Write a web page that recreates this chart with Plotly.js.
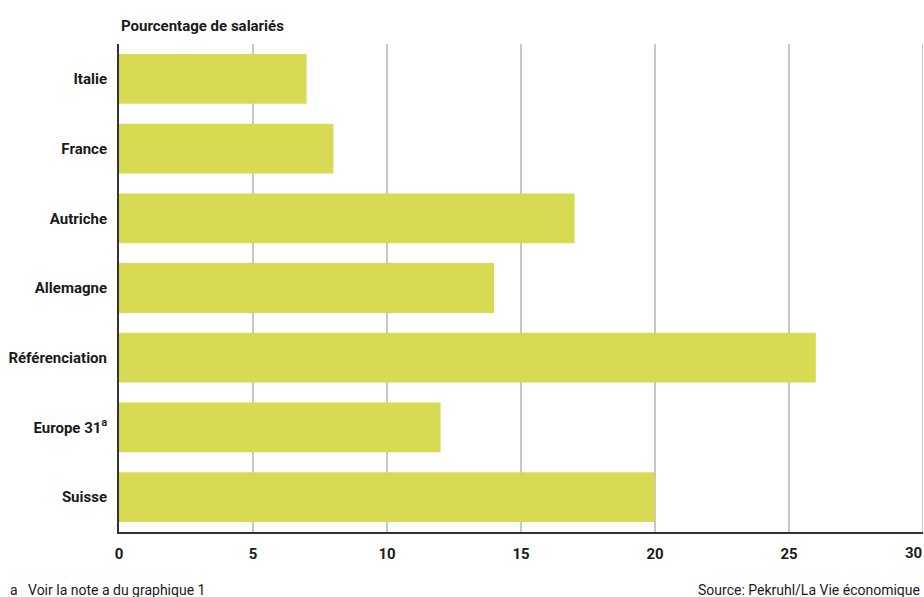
<!DOCTYPE html>
<html><head><meta charset="utf-8">
<script src="https://cdn.plot.ly/plotly-3.0.1.min.js"></script>
<style>html,body{margin:0;padding:0;background:#fff}#chart{width:924px;height:597px}</style>
</head><body><div id="chart"></div>
<script>
const categories = ["Italie","France","Autriche","Allemagne","Référenciation","Europe 31<sup>a</sup>","Suisse"];
const values = [7, 8, 17, 14, 26, 12, 20];
const tickVals = [0,5,10,15,20,25,30];
const tickText = ["0","5","10","15","20","25","30"];
const FONT = 'Roboto,"Noto Sans",sans-serif';

const trace = {
  type: 'bar', orientation: 'h',
  y: categories, x: values,
  marker: {color: '#d7da53', line: {width: 0}},
  hoverinfo: 'none'
};
const lastTick = tickText[tickText.length - 1];
const layout = {
  width: 924, height: 597,
  margin: {l: 119, r: 1, t: 44, b: 65},
  paper_bgcolor: '#fff', plot_bgcolor: '#fff',
  bargap: 0.286,
  showlegend: false,
  font: {family: FONT, size: 14, color: '#1a1a1a'},
  xaxis: {
    range: [0, 30], tickvals: tickVals.slice(0, -1), ticktext: tickText.slice(0, -1),
    showgrid: true, gridcolor: '#c8c8c8', gridwidth: 2,
    zeroline: false, showline: true, linecolor: '#333', linewidth: 2,
    ticks: '', ticklen: 0, ticklabelstandoff: 7,
    tickfont: {family: FONT, size: 15, color: '#1a1a1a', weight: 'bold'},
    fixedrange: true
  },
  yaxis: {
    autorange: false, range: [6.5, -0.5],
    type: 'category',
    showgrid: false, zeroline: false, showline: true, linecolor: '#333', linewidth: 2,
    ticks: '', ticklabelstandoff: 7,
    tickfont: {family: FONT, size: 15, color: '#1a1a1a', weight: 'bold'},
    fixedrange: true
  },
  shapes: [
    {type: 'line', xref: 'x', yref: 'paper', x0: 30, x1: 30, y0: 0, y1: 1,
     line: {color: '#c8c8c8', width: 2}, layer: 'below'}
  ],
  annotations: [
    {text: 'Pourcentage de salariés', xref: 'paper', yref: 'paper', x: 0, y: 1, yshift: 18,
     xanchor: 'left', yanchor: 'middle', showarrow: false,
     font: {family: FONT, size: 15, color: '#1a1a1a', weight: 'bold'}},
    {text: lastTick, xref: 'x', yref: 'paper', x: 30, y: 0, yshift: -21, xshift: 1,
     xanchor: 'right', yanchor: 'middle', showarrow: false,
     font: {family: FONT, size: 15, color: '#1a1a1a', weight: 'bold'}},
    {text: 'a   Voir la note a du graphique 1', xref: 'paper', yref: 'paper', x: -111/804, y: 0, yshift: -58,
     xanchor: 'left', yanchor: 'middle', showarrow: false,
     font: {family: FONT, size: 14, color: '#1a1a1a'}},
    {text: 'Source: Pekruhl/La Vie économique', xref: 'paper', yref: 'paper', x: 1, y: 0, yshift: -58, xshift: -1,
     xanchor: 'right', yanchor: 'middle', showarrow: false,
     font: {family: FONT, size: 14, color: '#1a1a1a'}}
  ]
};
Plotly.newPlot('chart', [trace], layout, {displayModeBar: false, staticPlot: true});
</script></body></html>
